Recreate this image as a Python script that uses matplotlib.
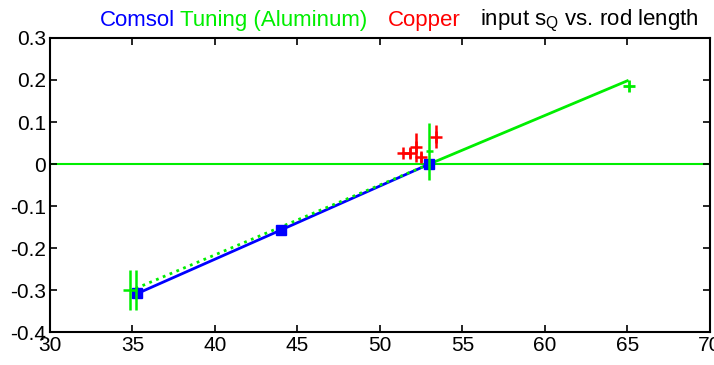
import numpy as np
import matplotlib
matplotlib.use("Agg")
import matplotlib.pyplot as plt

plt.rcParams['font.family'] = ['Liberation Sans', 'DejaVu Sans']
plt.rcParams['mathtext.fontset'] = 'custom'
plt.rcParams['mathtext.rm'] = 'Liberation Sans'
plt.rcParams['mathtext.it'] = 'Liberation Sans'

# Comsol simulation
comsol_len = [35.3, 44.0, 53.0]
comsol_sq = [-0.308, -0.157, 0.0]

# tuning measurements (aluminum)
alu_len = [34.85, 35.2, 53.0]
alu_sq = [-0.30, -0.30, 0.03]
alu_err = [0.048, 0.048, 0.068]
alu_xerr = [0.45, 0.0, 0.2]
alu_fit_lo = [35.2, 53.0]
alu_fit_lo_sq = [-0.296, 0.0]
alu_fit_hi = [53.0, 65.0]
alu_fit_hi_sq = [0.0, 0.198]
alu_pt65 = [65.1]
alu_pt65_sq = [0.186]

# copper measurements
cu_len = [51.4, 51.8, 52.2, 52.5, 53.4]
cu_sq = [0.027, 0.027, 0.04, 0.017, 0.065]
cu_err = [0.0, 0.012, 0.035, 0.012, 0.028]

fig = plt.figure(figsize=(7.14, 3.65), dpi=100)
ax = fig.add_axes([0.070, 0.090, 0.924, 0.806])

green = '#00ee00'
ax.axhline(0, color=green, lw=1.5, zorder=1)
ax.plot(comsol_len, comsol_sq, '-', color='#0000ff', lw=2, zorder=3)
ax.plot(comsol_len, comsol_sq, 's', color='#0000ff', ms=7, zorder=4)
ax.plot(alu_fit_lo, alu_fit_lo_sq, ':', color=green, lw=2, zorder=3)
ax.plot(alu_fit_hi, alu_fit_hi_sq, '-', color=green, lw=2, zorder=3)
ax.errorbar(alu_len, alu_sq, yerr=alu_err, xerr=alu_xerr, fmt='none',
            ecolor=green, elinewidth=1.8, capsize=0, zorder=5)
ax.plot(alu_pt65, alu_pt65_sq, '+', color=green, ms=9, mew=2, zorder=5)
ax.errorbar(cu_len, cu_sq, yerr=cu_err, fmt='+', color='#ff0000', ms=9, mew=1.8,
            elinewidth=1.8, capsize=0, zorder=5)

ax.set_xlim(30, 70)
ax.set_ylim(-0.4, 0.3)
ax.set_xticks(np.arange(30, 71, 5))
ax.set_yticks(np.round(np.arange(-0.4, 0.31, 0.1), 1))
ax.set_yticklabels(['-0.4', '-0.3', '-0.2', '-0.1', '0', '0.1', '0.2', '0.3'])
ax.tick_params(direction='in', length=5, width=1.2, labelsize=15,
               top=True, right=True, pad=3)
for s in ax.spines.values():
    s.set_linewidth(1.5)

fs = 16
ty = 0.93
fig.text(0.140, ty, 'Comsol', color='#0000ff', fontsize=fs, va='baseline')
fig.text(0.252, ty, 'Tuning (Aluminum)', color=green, fontsize=fs, va='baseline')
fig.text(0.543, ty, 'Copper', color='#ff0000', fontsize=fs, va='baseline')
fig.text(0.672, ty, 'input s$_\\mathrm{Q}$ vs. rod length', color='black',
         fontsize=fs, va='baseline')

fig.savefig('out.png', dpi=100)
